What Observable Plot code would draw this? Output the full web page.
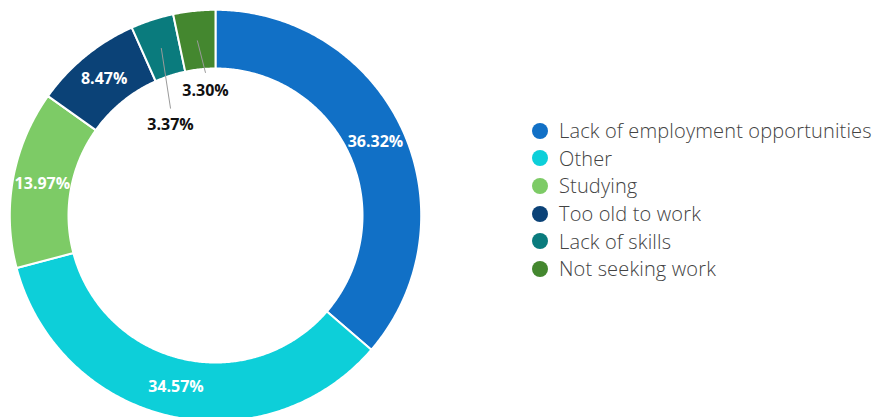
<!DOCTYPE html>
<html>
<head>
<meta charset="utf-8">
<script src="https://cdn.jsdelivr.net/npm/d3@7"></script>
<script src="https://cdn.jsdelivr.net/npm/@observablehq/plot@0.6"></script>
<style>
  html, body { margin: 0; padding: 0; background: #fff; overflow: hidden; }
  #wrap { position: relative; width: 877px; height: 417px; overflow: hidden; }
  #wrap svg { overflow: hidden; }
  #legend { position: absolute; left: 532px; top: 117px; font-family: "Open Sans", Lato, sans-serif; font-weight: 300; font-size: 20px; letter-spacing: 0.15px; color: #434343; }
  .row { display: flex; align-items: center; height: 27.6px; white-space: nowrap; }
  .sw { width: 16px; height: 16px; border-radius: 50%; margin-right: 11px; flex: none; }
</style>
</head>
<body>
<div id="wrap"></div>
<script>
// ---- data ----
const categories = ["Lack of employment opportunities", "Other", "Studying", "Too old to work", "Lack of skills", "Not seeking work"];
const shares = [36.32, 34.57, 13.97, 8.47, 3.37, 3.30];
const colors = ["#1170c6", "#0dcfd9", "#7dcb66", "#0b4277", "#0a7b7d", "#44872f"];

// ---- layout ----
const W = 877, H = 417;
const cx = 215, cy = 215, R = 205.7;          // pixel geometry of donut
const innerRatio = 147 / R;
const labelRatio = 176 / R;
// callouts for thin slices (angle in degrees from 12 o'clock, radius in px)
const callouts = {
  "Lack of skills": {angle: -22.8, r: 116, dy: 16},
  "Not seeking work": {angle: -4, r: 143, dy: 18}
};

const pie = d3.pie().sort(null).value(d => d.value);
const arcs = pie(categories.map((c, i) => ({cat: c, value: shares[i]})));

const pt = (a, r) => ({x: r * Math.sin(a), y: r * Math.cos(a)});

const ring = [];
for (const s of arcs) {
  const a0 = s.startAngle, a1 = s.endAngle;
  const n = Math.max(4, Math.ceil((a1 - a0) / (Math.PI / 360)));
  for (let k = 0; k <= n; k++) ring.push({cat: s.data.cat, ...pt(a0 + (a1 - a0) * k / n, 1)});
  for (let k = n; k >= 0; k--) ring.push({cat: s.data.cat, ...pt(a0 + (a1 - a0) * k / n, innerRatio)});
}

const fmt = v => v.toFixed(2) + "%";
const inside = arcs.filter(s => !callouts[s.data.cat]).map(s => {
  const m = (s.startAngle + s.endAngle) / 2;
  return {text: fmt(s.data.value), ...pt(m, labelRatio)};
});
const links = [], outside = [];
for (const s of arcs) {
  const c = callouts[s.data.cat];
  if (!c) continue;
  const m = (s.startAngle + s.endAngle) / 2;
  const p0 = pt(m, labelRatio);
  const p1 = pt(c.angle * Math.PI / 180, c.r / R);
  links.push({x1: p0.x, y1: p0.y, x2: p1.x, y2: p1.y});
  outside.push({text: fmt(s.data.value), x: p1.x, y: p1.y, dy: c.dy});
}

const labelFont = {fontSize: 16, fontWeight: 700, fontFamily: "Open Sans"};
const chart = Plot.plot({
  width: W, height: H,
  marginLeft: cx - R, marginRight: W - cx - R, marginTop: cy - R, marginBottom: 0,
  x: {domain: [-1, 1], axis: null},
  y: {domain: [-(H - cy) / R, 1], axis: null},
  color: {domain: categories, range: colors},
  style: {background: "white", overflow: "hidden"},
  marks: [
    Plot.line(ring, {x: "x", y: "y", z: "cat", fill: "cat", stroke: "white", strokeWidth: 2, curve: "linear-closed"}),
    Plot.link(links, {x1: "x1", y1: "y1", x2: "x2", y2: "y2", stroke: "#9a9a9a", strokeWidth: 1}),
    Plot.text(inside, {x: "x", y: "y", text: "text", fill: "white", ...labelFont}),
    Plot.text(outside.filter(d => d.dy === 16), {x: "x", y: "y", text: "text", dy: 16, fill: "#111", ...labelFont}),
    Plot.text(outside.filter(d => d.dy === 18), {x: "x", y: "y", text: "text", dy: 18, fill: "#111", ...labelFont})
  ]
});
const wrap = document.getElementById("wrap");
wrap.appendChild(chart);

const legend = document.createElement("div");
legend.id = "legend";
categories.forEach((c, i) => {
  const row = document.createElement("div");
  row.className = "row";
  const sw = document.createElement("span");
  sw.className = "sw";
  sw.style.background = colors[i];
  const t = document.createElement("span");
  t.textContent = c;
  row.appendChild(sw); row.appendChild(t);
  legend.appendChild(row);
});
wrap.appendChild(legend);
</script>
</body>
</html>
